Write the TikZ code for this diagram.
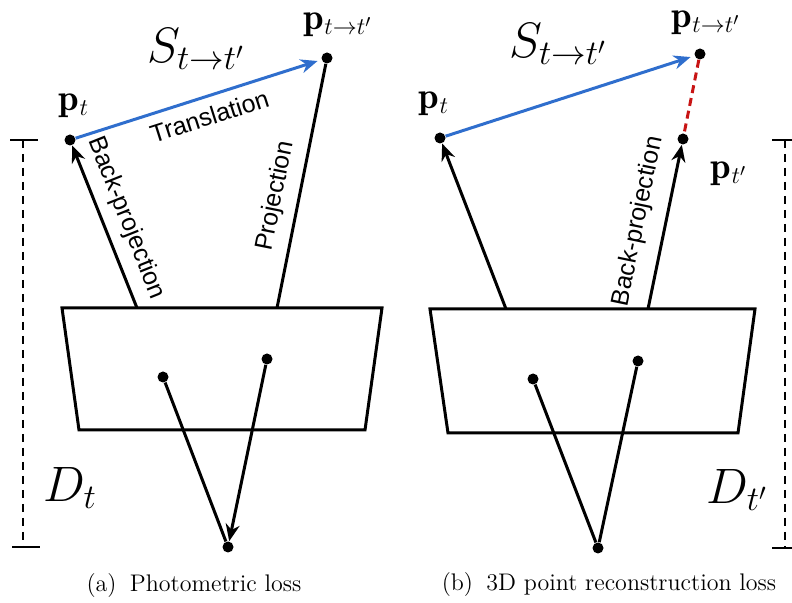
\documentclass[tikz,border=0pt]{standalone}
\usepackage{amsmath,amssymb}
\usepackage{fontspec}
\newfontfamily\labelfont{Liberation Sans}
\usetikzlibrary{arrows.meta}
\definecolor{transblue}{RGB}{47,110,205}
\definecolor{errred}{RGB}{200,20,20}

\begin{document}
\begin{tikzpicture}[x=.5pt,y=-.5pt,>={Stealth[length=8.5pt,width=7pt]},
  pdot/.style={circle,fill=black,inner sep=0pt,minimum size=5.5pt},
  ray/.style={line width=1.5pt},
  plane/.style={draw,line width=1.5pt,line join=miter},
  ruler/.style={line width=1pt,dash pattern=on 4pt off 3pt},
  word/.style={font=\labelfont\fontsize{12.5}{14}\selectfont,inner sep=2pt},
  sym/.style={font=\fontsize{18.5}{22}\selectfont,inner sep=1pt},
  big/.style={font=\fontsize{23}{27}\selectfont},
  subcap/.style={font=\fontsize{12}{14}\selectfont}]
\useasboundingbox (0,0) rectangle (792,603);

% (a) photometric loss
\draw[plane] (62,308)--(382,308)--(365,430)--(79,430)--cycle;
\coordinate (ba) at (137,308);
\coordinate (pja) at (277,308);
\node[pdot] (pa) at (70,140) {};
\node[pdot] (qa) at (327,58) {};
\node[pdot] (ua) at (163,377) {};
\node[pdot] (va) at (267,359) {};
\node[pdot] (ca) at (228,547) {};
\node[sym] (pal) at (74,106) {$\mathbf{p}_t$};
\node[sym] (qal) at (338,25) {$\mathbf{p}_{t\rightarrow t'}$};
\node[big] (sa) at (196,49) {$S_{t\rightarrow t'}$};
\draw[->,ray,transblue,shorten >=2pt] (pa)--node[word,sloped,below=2.5pt,pos=.52,text=black] {Translation} (qa);
\draw[->,ray] (ba)--node[word,sloped,above=3pt,pos=.5] {Back-projection} (pa);
\draw[ray] (pja)--node[word,sloped,above=3pt,pos=.44] {Projection} (qa);
\draw[ray] (ua)--(ca);
\draw[->,ray] (va)--(ca);
% depth bar
\coordinate (ta) at (23,140);
\coordinate (la) at (23,547);
\draw[ruler] (ta)--(la);
\draw[line width=1pt] (10,140)--(38,140) (12,547)--(40,547);
\node[big] (da) at (70,488) {$D_t$};
\node[subcap] (capa) at (194,586) {(a)\hspace{.55em}Photometric loss};

% (b) 3D point reconstruction loss
\draw[plane] (430,309)--(755,309)--(738,433)--(448,433)--cycle;
\coordinate (bb) at (506,309);
\coordinate (bc) at (648,309);
\node[pdot] (pb) at (440,138) {};
\node[pdot] (qb) at (700,54) {};
\node[pdot] (rb) at (683,139) {};
\node[pdot] (ub) at (533,379) {};
\node[pdot] (vb) at (638,361) {};
\node[pdot] (cb) at (598,548) {};
\node[sym] (pbl) at (434,104) {$\mathbf{p}_t$};
\node[sym] (qbl) at (706,23) {$\mathbf{p}_{t\rightarrow t'}$};
\node[sym] (rbl) at (729,174) {$\mathbf{p}_{t'}$};
\node[big] (sb) at (558,44) {$S_{t\rightarrow t'}$};
\draw[->,ray,transblue,shorten >=2pt] (pb)--(qb);
\draw[ray,errred,dash pattern=on 4pt off 2.5pt] (qb)--(rb);
\draw[->,ray] (bb)--(pb);
\draw[->,ray] (bc)--node[word,sloped,above=5pt,pos=.5] {Back-projection} (rb);
\draw[ray] (ub)--(cb);
\draw[ray] (vb)--(cb);
% depth bar
\coordinate (tb) at (785,140);
\coordinate (lb) at (785,548);
\draw[ruler] (tb)--(lb);
\draw[line width=1pt] (772,140)--(792,140) (772,548)--(792,548);
\node[big] (db) at (737,490) {$D_{t'}$};
\node[subcap] (capb) at (609,585) {(b)\hspace{.55em}3D point reconstruction loss};
\end{tikzpicture}
\end{document}
